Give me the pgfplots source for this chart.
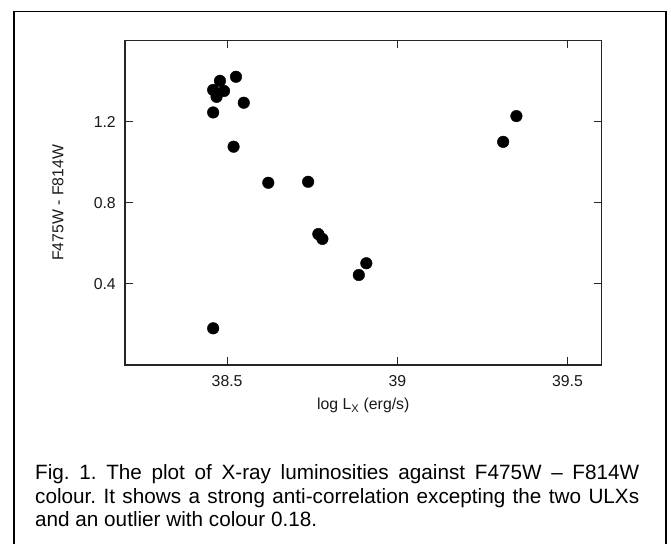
\documentclass[border=0pt]{standalone}
\usepackage{fontspec}
\setmainfont{Liberation Sans}
\usepackage{pgfplots}
\pgfplotsset{compat=1.18}
\frenchspacing

\begin{document}
\begin{tikzpicture}[x=1pt,y=1pt]
\useasboundingbox (0,0) rectangle (671,543);
\fill[white] (0,0) rectangle (671,543);
% frame around figure and caption (open at the bottom)
\draw[line width=1.3pt, line cap=rect] (14,0) -- (14,531.3) -- (666,531.3) -- (666,0);

\begin{axis}[
    at={(125pt,178pt)}, anchor=south west,
    scale only axis,
    width=476.5pt, height=324.3pt,
    xmin=38.2, xmax=39.6,
    ymin=0, ymax=1.6,
    xtick={38.5,39,39.5},
    ytick={0.4,0.8,1.2},
    xticklabels={38.5,39,39.5},
    yticklabels={0.4,0.8,1.2},
    tick align=inside,
    major tick length=7.5pt,
    xtick pos=both, ytick pos=both,
    xticklabel pos=lower, yticklabel pos=left,
    axis line style={line width=1.2pt, black!85},
    tick style={line width=1pt, black!85},
    tick label style={font=\fontsize{15.8}{19}\selectfont, black!90},
    xticklabel style={yshift=-6.5pt},
    yticklabel style={xshift=-5.7pt},
    /pgf/number format/assume math mode=true,
    xlabel={log L\textsubscript{X} (erg/s)},
    ylabel={F475W - F814W},
    label style={font=\fontsize{15.8}{19}\selectfont, black!90},
    xlabel style={at={(axis description cs:0.5,-0.126)}, anchor=center},
    ylabel style={at={(axis description cs:-0.1406,0.5)}, anchor=center},
    clip=false,
]

% log L_X vs F475W - F814W colour
\addplot[only marks, mark=*, mark size=5.8pt, mark options={fill=black, draw=none}] coordinates {
    (38.526, 1.422) (38.479, 1.402) (38.459, 1.357) (38.491, 1.352)
    (38.469, 1.323) (38.549, 1.294) (38.459, 1.246) (38.519, 1.077)
    (38.621, 0.899) (38.738, 0.904) (38.768, 0.646) (38.780, 0.622)
    (38.909, 0.502) (38.887, 0.444) (38.459, 0.181)
    (39.350, 1.228) (39.311, 1.101)
};

\end{axis}

% caption
\begin{scope}[every node/.style={anchor=base west, inner sep=0pt, font=\fontsize{20.7}{24}\selectfont}]
\node at (35,63.5) {\makebox[604pt][s]{Fig. 1. The plot of X-ray luminosities against F475W – F814W}};
\node at (35,39.5) {\makebox[604pt][s]{colour. It shows a strong anti-correlation excepting the two ULXs}};
\node at (35,16.5) {and an outlier with colour 0.18.};
\end{scope}
\end{tikzpicture}
\end{document}
